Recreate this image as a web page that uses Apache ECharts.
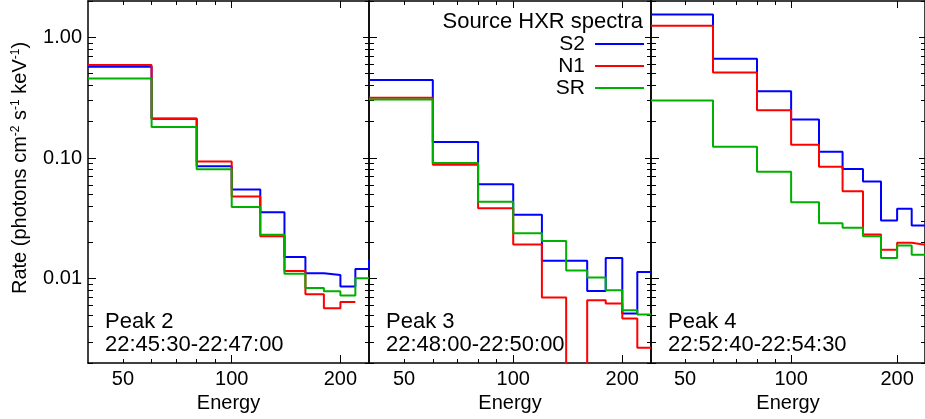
<!DOCTYPE html>
<html><head><meta charset="utf-8">
<script src="https://cdn.jsdelivr.net/npm/echarts@6/dist/echarts.min.js"></script>
<style>html,body{margin:0;padding:0;background:#fff}#c{width:925px;height:419px}</style>
</head><body><div id="c"></div>
<script>
// ---------- data ----------
const binEdges = [40, 60, 80, 100, 120, 140, 160, 180, 200, 220, 240, 260];
const panelTitles = ['Peak 2', 'Peak 3', 'Peak 4'];
const panelTimes = ['22:45:30-22:47:00', '22:48:00-22:50:00', '22:52:40-22:54:30'];
const seriesNames = ['S2', 'N1', 'SR'];
const legendTitle = 'Source HXR spectra';

const s2Peak2 = [0.571, 0.212, 0.0853, 0.0547, 0.0355, 0.0151, 0.0111, 0.0107, 0.00863, 0.0120, 0.0142];
const n1Peak2 = [0.590, 0.210, 0.0937, 0.0479, 0.0225, 0.01155, 0.00742, 0.00568, 0.00641, null, null];
const srPeak2 = [0.455, 0.181, 0.0805, 0.0392, 0.0231, 0.0110, 0.00836, 0.00786, 0.00724, 0.01006, null];

const s2Peak3 = [0.442, 0.136, 0.0605, 0.0338, 0.0141, 0.0141, 0.00790, 0.0148, 0.00514, 0.01134, null];
const n1Peak3 = [0.315, 0.0880, 0.0383, 0.0192, 0.00697, 0.0001, 0.00662, 0.00621, 0.00467, 0.00267, null];
const srPeak3 = [0.305, 0.0909, 0.0433, 0.0238, 0.0205, 0.0117, 0.0102, 0.0080, 0.00547, 0.00504, null];

const s2Peak4 = [1.549, 0.666, 0.358, 0.208, 0.1128, 0.0811, 0.0637, 0.0303, 0.0379, 0.0276, null];
const n1Peak4 = [1.247, 0.510, 0.249, 0.129, 0.0847, 0.053, 0.0232, 0.01737, 0.01984, 0.0191, null];
const srPeak4 = [0.299, 0.124, 0.0770, 0.0430, 0.0288, 0.0264, 0.0225, 0.0148, 0.01884, 0.0158, null];

const xRange = [40, 240];
const yRange = [0.002, 2];
const xLabelValues = [50, 100, 200];
const xMajorTicks = [100, 200];
const xMinorTicks = [50, 60, 70, 80, 90];
const yLabelValues = [0.01, 0.1, 1];
const yMajorTicks = [0.01, 0.1, 1];
const yMinorTicks = [0.002, 0.003, 0.004, 0.005, 0.006, 0.007, 0.008, 0.009,
  0.02, 0.03, 0.04, 0.05, 0.06, 0.07, 0.08, 0.09,
  0.2, 0.3, 0.4, 0.5, 0.6, 0.7, 0.8, 0.9, 2];

const panelData = [
  [s2Peak2, n1Peak2, srPeak2],
  [s2Peak3, n1Peak3, srPeak3],
  [s2Peak4, n1Peak4, srPeak4]
];
const colors = ['#0000ff', '#ff0000', '#00b000'];

// ---------- build ----------
const L = Math.log10;
const FONT = '"Liberation Sans", Arial, Helvetica, sans-serif';

function stepData(vals) {
  const d = [];
  vals.forEach((v, i) => {
    if (v == null) { d.push([L(binEdges[i]), '-']); return; }
    d.push([L(binEdges[i]), L(v)]);
    d.push([L(binEdges[i + 1]), L(v)]);
  });
  return d;
}

const gridBoxes = [
  { left: 88, top: 1, width: 281, height: 362 },
  { left: 369, top: 1, width: 282, height: 362 },
  { left: 651, top: 1, width: 281, height: 362 }
];

const xAxes = [], yAxes = [], series = [], graphics = [];
const lineBlack = { color: '#000', width: 1.5 };

gridBoxes.forEach((g, p) => {
  const xBase = {
    type: 'value', gridIndex: p, min: L(xRange[0]), max: L(xRange[1]),
    splitLine: { show: false }, axisLabel: { show: false }
  };
  xAxes.push(Object.assign({}, xBase, {
    position: 'bottom',
    axisLine: { show: true, onZero: false, lineStyle: lineBlack },
    axisTick: { show: true, inside: true, length: 8, customValues: xMajorTicks.map(L), lineStyle: { color: '#000', width: 1 } },
    axisLabel: { show: true, customValues: xLabelValues.map(L), formatter: v => String(Math.round(Math.pow(10, v))),
      color: '#000', fontSize: 20, fontFamily: FONT, margin: 6 },
    name: 'Energy', nameLocation: 'middle', nameGap: 27,
    nameTextStyle: { color: '#000', fontSize: 20, fontFamily: FONT }
  }));
  xAxes.push(Object.assign({}, xBase, {
    position: 'bottom',
    axisLine: { show: false, onZero: false },
    axisTick: { show: true, inside: true, length: 4, customValues: xMinorTicks.map(L), lineStyle: { color: '#000', width: 1 } }
  }));
  xAxes.push(Object.assign({}, xBase, {
    position: 'top',
    axisLine: { show: true, onZero: false, lineStyle: lineBlack },
    axisTick: { show: true, inside: true, length: 7, customValues: xMajorTicks.map(L), lineStyle: { color: '#000', width: 1 } }
  }));
  xAxes.push(Object.assign({}, xBase, {
    position: 'top',
    axisLine: { show: false, onZero: false },
    axisTick: { show: true, inside: true, length: 4, customValues: xMinorTicks.map(L), lineStyle: { color: '#000', width: 1 } }
  }));

  const yBase = {
    type: 'value', gridIndex: p, min: L(yRange[0]), max: L(yRange[1]),
    splitLine: { show: false }, axisLabel: { show: false }
  };
  yAxes.push(Object.assign({}, yBase, {
    position: 'left',
    axisLine: { show: true, onZero: false, lineStyle: lineBlack },
    axisTick: { show: true, inside: true, length: 8, customValues: yMajorTicks.map(L), lineStyle: { color: '#000', width: 1 } },
    axisLabel: { show: p === 0, customValues: yLabelValues.map(L), formatter: v => Math.pow(10, v).toFixed(2),
      color: '#000', fontSize: 20, fontFamily: FONT, margin: 6 }
  }));
  yAxes.push(Object.assign({}, yBase, {
    position: 'left',
    axisLine: { show: false, onZero: false },
    axisTick: { show: true, inside: true, length: 5, customValues: yMinorTicks.map(L), lineStyle: { color: '#000', width: 1 } }
  }));
  yAxes.push(Object.assign({}, yBase, {
    position: 'right',
    axisLine: { show: true, onZero: false, lineStyle: lineBlack },
    axisTick: { show: true, inside: true, length: 6, customValues: yMajorTicks.map(L), lineStyle: { color: '#000', width: 1 } }
  }));
  yAxes.push(Object.assign({}, yBase, {
    position: 'right',
    axisLine: { show: false, onZero: false },
    axisTick: { show: true, inside: true, length: 4, customValues: yMinorTicks.map(L), lineStyle: { color: '#000', width: 1 } }
  }));

  panelData[p].forEach((vals, s) => {
    series.push({
      type: 'line', name: seriesNames[s], xAxisIndex: 4 * p, yAxisIndex: 4 * p,
      data: stepData(vals), symbol: 'none', showSymbol: false, clip: true,
      lineStyle: { color: colors[s], width: 2 }, itemStyle: { color: colors[s] },
      emphasis: { disabled: true }, z: 2 + s
    });
  });

  graphics.push({
    type: 'text', left: g.left + 17, top: 311, silent: true,
    style: { text: panelTitles[p], fill: '#000', font: '22px ' + FONT }
  });
  graphics.push({
    type: 'text', left: g.left + 17, top: 334, silent: true,
    style: { text: panelTimes[p], fill: '#000', font: '22px ' + FONT }
  });
});

graphics.push({
  type: 'text', right: 925 - 643, top: 11, silent: true,
  style: { text: legendTitle, fill: '#000', font: '22px ' + FONT }
});
graphics.push({
  type: 'text', x: 20, y: 168, rotation: Math.PI / 2, silent: true,
  style: {
    text: 'Rate (photons cm{sup|-2} s{sup|-1} keV{sup|-1})',
    fill: '#000', font: '20px ' + FONT, align: 'center', verticalAlign: 'middle',
    rich: { sup: { fontSize: 12, fontFamily: FONT, fill: '#000', verticalAlign: 'top', lineHeight: 12 } }
  }
});

const chart = echarts.init(document.getElementById('c'), null, { renderer: 'canvas' });
chart.setOption({
  animation: false,
  backgroundColor: '#fff',
  grid: gridBoxes,
  xAxis: xAxes,
  yAxis: yAxes,
  series: series,
  legend: {
    data: seriesNames.map(n => ({ name: n, icon: 'rect' })), orient: 'vertical', right: 925 - 644, top: 33, padding: 0,
    itemWidth: 49, itemHeight: 2, itemGap: 0, align: 'right', selectedMode: false,
    textStyle: { color: '#000', fontSize: 21, fontFamily: FONT, lineHeight: 22, padding: [0, 5, 0, 0] }
  },
  graphic: graphics
});
</script></body></html>
